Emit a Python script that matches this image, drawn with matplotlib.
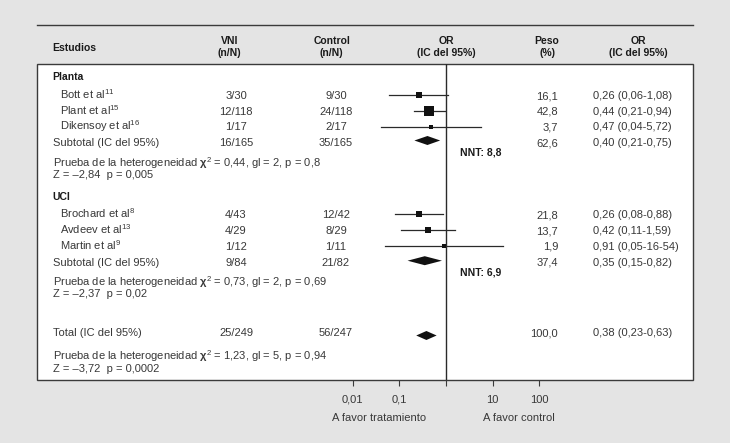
import matplotlib
matplotlib.use('Agg')
import matplotlib.pyplot as plt
from matplotlib.patches import Rectangle
from matplotlib.ticker import NullLocator

plt.rcParams['font.family'] = ['Liberation Sans', 'DejaVu Sans']
plt.rcParams['mathtext.fontset'] = 'custom'
plt.rcParams['mathtext.rm'] = 'Liberation Sans'
plt.rcParams['mathtext.it'] = 'Liberation Sans:italic'
plt.rcParams['mathtext.bf'] = 'Liberation Sans:bold'

# ---- data ----
group_names = ['Planta', 'UCI']
study_names = ['Bott et al', 'Plant et al', 'Dikensoy et al',
               'Brochard et al', 'Avdeev et al', 'Martin et al']
study_refs = ['11', '15', '16', '8', '13', '9']
study_vni = ['3/30', '12/118', '1/17', '4/43', '4/29', '1/12']
study_control = ['9/30', '24/118', '2/17', '12/42', '8/29', '1/11']
study_peso = [16.1, 42.8, 3.7, 21.8, 13.7, 1.9]
study_or = [0.26, 0.44, 0.47, 0.26, 0.42, 0.91]
study_lo = [0.06, 0.21, 0.04, 0.08, 0.11, 0.05]
study_hi = [1.08, 0.94, 5.72, 0.88, 1.59, 16.54]
study_or_text = ['0,26 (0,06-1,08)', '0,44 (0,21-0,94)', '0,47 (0,04-5,72)',
                 '0,26 (0,08-0,88)', '0,42 (0,11-1,59)', '0,91 (0,05-16-54)']

pooled_names = ['Subtotal (IC del 95%)', 'Subtotal (IC del 95%)', 'Total (IC del 95%)']
pooled_vni = ['16/165', '9/84', '25/249']
pooled_control = ['35/165', '21/82', '56/247']
pooled_peso = [62.6, 37.4, 100.0]
pooled_or = [0.40, 0.35, 0.38]
pooled_lo = [0.21, 0.15, 0.23]
pooled_hi = [0.75, 0.82, 0.63]
pooled_or_text = ['0,40 (0,21-0,75)', '0,35 (0,15-0,82)', '0,38 (0,23-0,63)']

het_chi = ['0,44', '0,73', '1,23']
het_gl = ['2', '2', '5']
het_p = ['0,8', '0,69', '0,94']
z_val = ['\u20132,84', '\u20132,37', '\u20133,72']
z_p = ['0,005', '0,02', '0,0002']
nnt = ['8,8', '6,9']

tick_vals = [0.01, 0.1, 1, 10, 100]
tick_labels = ['0,01', '0,1', '', '10', '100']

# ---- layout (pixels, y = text centre) ----
W, H = 730, 443
BOX_L, BOX_R, BOX_T, BOX_B = 37, 693, 64, 380
X0, X1 = 352.7, 539.3          # 0.01 and 100 on the OR axis
NAME_X, STUDY_X = 52.7, 60
VNI_X, CTRL_X, OR_HDR_X = 236, 336, 446
PESO_X, ORTXT_X, NNT_X = 558, 593, 460
group_y = [76.5, 196.5]
study_y = [95, 110.5, 126.5, 214, 230.3, 245.5]
pooled_y = [142, 261.5, 332]
diamond_y = [140.5, 260.7, 335.5]
het_y = [(163, 174), (282.5, 293), (356.5, 367.5)]
nnt_y = [152, 271.5]

dark = '#383838'
fs = 8
fsb = 7.5
OFF = 4.0      # centre -> baseline, regular text
OFFB = 3.8     # centre -> baseline, bold text

fig = plt.figure(figsize=(W / 100, H / 100), dpi=100, facecolor='#e4e4e4')
tab = fig.add_axes([0, 0, 1, 1])
tab.set_xlim(0, W)
tab.set_ylim(H, 0)
tab.axis('off')

tab.add_patch(Rectangle((BOX_L, BOX_T), BOX_R - BOX_L, BOX_B - BOX_T,
                        facecolor='white', edgecolor='#3a3a3a', lw=1.0))
tab.plot([BOX_L, BOX_R], [25, 25], color='#3a3a3a', lw=1.0)

hd = dict(fontsize=fsb, fontweight='bold', color='#1a1a1a', va='baseline')
tx = dict(fontsize=fs, color=dark, va='baseline')


def head(x, y, s, ha='center'):
    tab.text(x, y + OFFB, s, ha=ha, **hd)


def cell(x, y, s, ha='left'):
    tab.text(x, y + OFF, s, ha=ha, **tx)


# headers
head(NAME_X, 47, 'Estudios', ha='left')
head(230, 40, 'VNI')
head(229, 52.5, '(n/N)')
head(332, 40, 'Control')
head(331, 52.5, '(n/N)')
head(OR_HDR_X, 40, 'OR')
head(OR_HDR_X, 52.5, '(IC del 95%)')
head(547, 40, 'Peso')
head(547, 52.5, '(%)')
head(638, 40, 'OR')
head(638, 52.5, '(IC del 95%)')

for g, y in zip(group_names, group_y):
    head(NAME_X, y, g, ha='left')

for i, y in enumerate(study_y):
    cell(STUDY_X, y, study_names[i] + '$^{' + study_refs[i] + '}$')
    cell(VNI_X, y, study_vni[i], ha='center')
    cell(CTRL_X, y, study_control[i], ha='center')
    cell(PESO_X, y, f'{study_peso[i]:.1f}'.replace('.', ','), ha='right')
    cell(ORTXT_X, y, study_or_text[i])

for i, y in enumerate(pooled_y):
    cell(NAME_X, y, pooled_names[i])
    cell(VNI_X, y, pooled_vni[i], ha='center')
    cell(CTRL_X, y, pooled_control[i], ha='center')
    cell(PESO_X, y, f'{pooled_peso[i]:.1f}'.replace('.', ','), ha='right')
    cell(ORTXT_X, y, pooled_or_text[i])

for i, (y1, y2) in enumerate(het_y):
    cell(NAME_X, y1, 'Prueba de la heterogeneidad $\\mathbf{\\chi}^{2}$ = ' + het_chi[i]
         + ', gl = ' + het_gl[i] + ', p = ' + het_p[i])
    cell(NAME_X, y2, 'Z = ' + z_val[i] + '  p = ' + z_p[i])

for n, y in zip(nnt, nnt_y):
    head(NNT_X, y, 'NNT: ' + n, ha='left')

cell(379, 417, 'A favor tratamiento', ha='center')
cell(519, 417, 'A favor control', ha='center')

# ---- forest axes ----
ax = fig.add_axes([X0 / W, (H - BOX_B) / H, (X1 - X0) / W, (BOX_B - BOX_T) / H])
ax.set_xscale('log')
ax.set_xlim(0.01, 100)
ax.set_ylim(BOX_B, BOX_T)
ax.patch.set_alpha(0)
for s in ax.spines.values():
    s.set_visible(False)
ax.set_xticks(tick_vals)
ax.set_xticklabels(tick_labels)
ax.xaxis.set_minor_locator(NullLocator())
ax.set_yticks([])
ax.tick_params(axis='x', length=4.5, width=0.8, color='#3a3a3a', pad=6,
               labelsize=fs, labelcolor=dark)
ax.axvline(1, color='#2a2a2a', lw=1.0)

for i, y in enumerate(study_y):
    ax.plot([study_lo[i], study_hi[i]], [y, y], color='#2a2a2a', lw=0.9, clip_on=False)
    side = max(3.6, 1.4 * study_peso[i] ** 0.5)
    ax.plot(study_or[i], y, marker='s', ms=side * 0.72, color='#111111', mew=0, clip_on=False)

for i, y in enumerate(diamond_y):
    ax.fill([pooled_lo[i], pooled_or[i], pooled_hi[i], pooled_or[i]],
            [y, y - 4.5, y, y + 4.5], color='#111111', lw=0)

fig.savefig('out.png', dpi=100, facecolor=fig.get_facecolor())
